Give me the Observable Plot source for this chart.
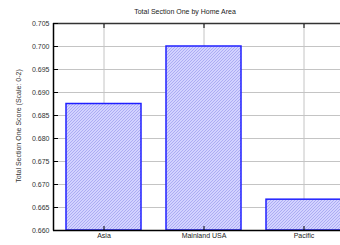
<!DOCTYPE html>
<html><head><meta charset="utf-8">
<script src="https://cdn.jsdelivr.net/npm/d3@7"></script>
<script src="https://cdn.jsdelivr.net/npm/@observablehq/plot@0.6"></script>
<style>
body{margin:0;background:#fff;}
#c{position:relative;width:340px;height:245px;overflow:hidden;}
</style>
</head><body><div id="c"></div>
<script>
const categories = ["Asia", "Mainland USA", "Pacific"];
const values = [0.6875, 0.700, 0.6667];
const yTicks = [0.660, 0.665, 0.670, 0.675, 0.680, 0.685, 0.690, 0.695, 0.700, 0.705];
const title = "Total Section One by Home Area";
const yLabel = "Total Section One Score (Scale: 0-2)";

const data = categories.map((c, i) => ({cat: c, v: values[i]}));
const font = "Liberation Sans, Arial, sans-serif";

const plot = Plot.plot({
  width: 340, height: 245,
  marginLeft: 53, marginTop: 23, marginBottom: 15, marginRight: 0,
  style: {fontFamily: font, fontSize: "7px", color: "#333", background: "#fff", overflow: "visible"},
  x: {domain: categories, range: [53.5, 353.5], paddingInner: 0.25, paddingOuter: 0.125, label: null, axis: null},
  y: {domain: [0.660, 0.705], range: [230, 23], label: null, axis: null},
  marks: [
    Plot.gridY(yTicks, {stroke: "#c4c4c4", strokeOpacity: 1, strokeWidth: 1}),
    Plot.gridX(categories, {stroke: "#c4c4c4", strokeOpacity: 1, strokeWidth: 1}),
    Plot.rectY(data, {x: "cat", y1: 0.660, y2: "v", fill: "url(#hatch)", stroke: "#2020ff", strokeWidth: 1.5, inset: 0}),
    Plot.ruleY([0.705], {stroke: "#333", strokeWidth: 1.5}),
    Plot.ruleY([0.660], {stroke: "#000", strokeWidth: 1.5}),
    Plot.axisY({ticks: yTicks, tickSize: -5, tickFormat: () => "", stroke: "#000", label: null}),
    Plot.axisX({anchor: "top", tickSize: -4, tickFormat: () => "", stroke: "#000", label: null}),
    Plot.axisX({anchor: "bottom", tickSize: -4, tickFormat: () => "", stroke: "#000", label: null}),
    Plot.text(yTicks, {y: d => d, frameAnchor: "left", dx: -4, text: d => d.toFixed(3), textAnchor: "end", fill: "#333", fontSize: 7}),
    Plot.text(categories, {x: d => d, frameAnchor: "bottom", dy: 7, text: d => d, fill: "#222", fontSize: 7})
  ]
});
const svg = d3.select(plot);
const defs = svg.insert("defs", ":first-child");
const pat = defs.append("pattern").attr("id", "hatch").attr("patternUnits", "userSpaceOnUse")
  .attr("width", 3).attr("height", 3);
pat.append("rect").attr("width", 3).attr("height", 3).attr("fill", "#d2d2ff");
pat.append("path").attr("d", "M-1,1 l2,-2 M0,3 l3,-3 M2,4 l2,-2").attr("stroke", "#a8a8f2").attr("stroke-width", 0.9);

svg.append("line").attr("x1", 53.5).attr("x2", 53.5).attr("y1", 23).attr("y2", 230.5).attr("stroke", "#000").attr("stroke-width", 1.5);
svg.append("text").attr("x", 185).attr("y", 14).attr("text-anchor", "middle")
  .attr("font-size", 7).attr("fill", "#222").text(title);
svg.append("text").attr("transform", "translate(21,126) rotate(-90)").attr("text-anchor", "middle")
  .attr("font-size", 7).attr("fill", "#333").text(yLabel);
document.getElementById("c").appendChild(plot);
</script></body></html>
